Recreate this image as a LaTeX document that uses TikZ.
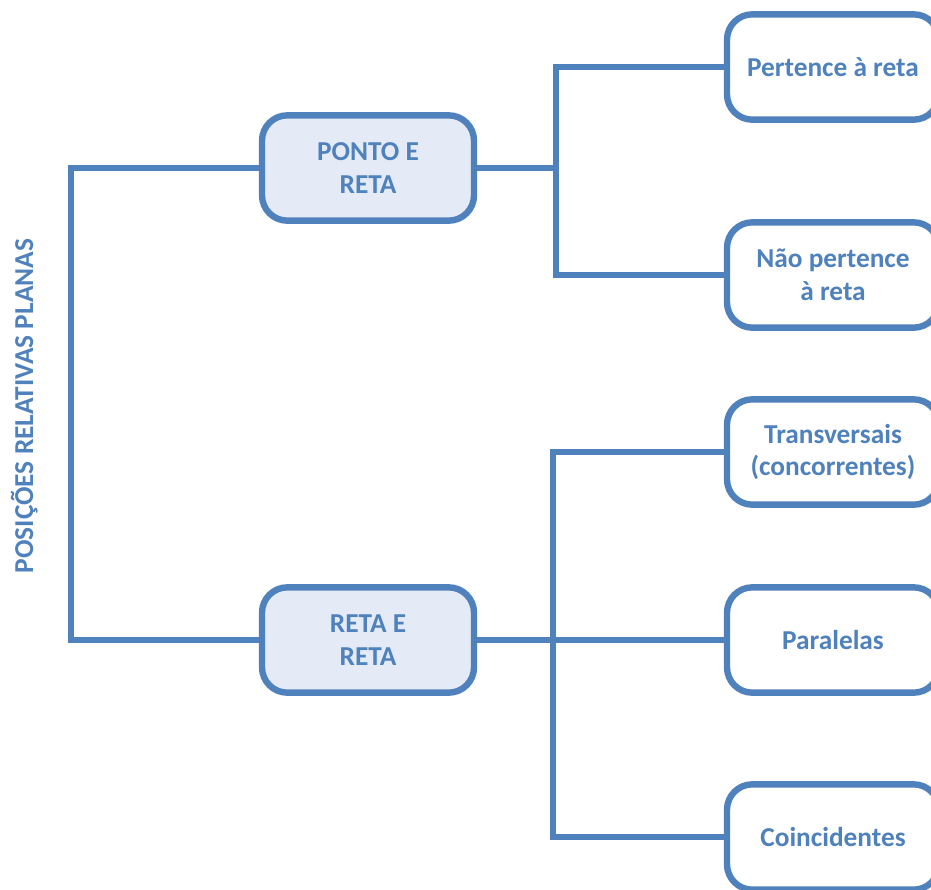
\documentclass[tikz,border=0pt]{standalone}
\usepackage{fontspec}
\setmainfont{Carlito}
\definecolor{ofblue}{HTML}{4F81BD}
\definecolor{boxfill}{HTML}{E5EBF6}
\begin{document}
\begin{tikzpicture}[x=0.75pt,y=-0.75pt,
  box/.style={draw=ofblue,line width=4.8pt,rounded corners=19pt,minimum width=159pt,minimum height=79pt,
    align=center,text=ofblue,font=\fontsize{20.5}{24.5}\selectfont\bfseries,inner sep=0pt},
  lbox/.style={box,fill=boxfill},
  rbox/.style={box,fill=white},
  conn/.style={draw=ofblue,line width=5.2pt}]
\clip (0,0) rectangle (931,889);
\fill[white] (0,0) rectangle (931,889);
\node[lbox] (ponto) at (368,168) {PONTO E\\RETA};
\node[lbox] (reta) at (368,640) {RETA E\\RETA};
\node[rbox] (b1) at (833,67) {Pertence à reta};
\node[rbox] (b2) at (833,275) {Não pertence\\à reta};
\node[rbox] (b3) at (833,452) {Transversais\\(concorrentes)};
\node[rbox] (b4) at (833,640) {Paralelas};
\node[rbox] (b5) at (833,837) {Coincidentes};
\node[rotate=90,anchor=base,text=ofblue,font=\fontsize{20.5}{24.5}\selectfont\bfseries] (title) at (33,406) {POSIÇÕES RELATIVAS PLANAS};
\coordinate (lj) at (71,400);
\coordinate (tj) at (556,168);
\coordinate (bj) at (553,640);
\draw[conn] (ponto.west) -| (lj) |- (reta.west);
\draw[conn] (ponto.east) -- (tj);
\draw[conn] (b1.west) -| (tj) |- (b2.west);
\draw[conn] (b3.west) -| (bj) |- (b5.west);
\draw[conn] (reta.east) -- (b4.west);
\end{tikzpicture}
\end{document}
